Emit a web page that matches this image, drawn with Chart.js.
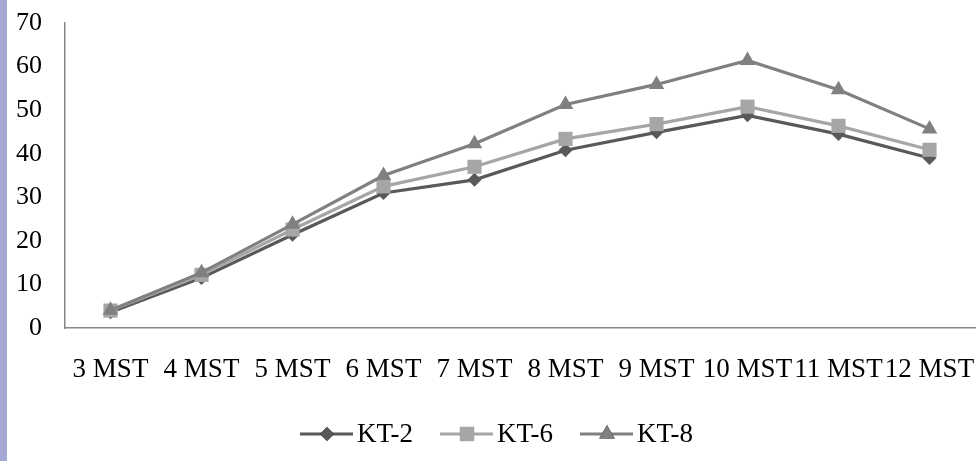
<!DOCTYPE html>
<html>
<head>
<meta charset="utf-8">
<script src="https://cdn.jsdelivr.net/npm/chart.js@4/dist/chart.umd.min.js"></script>
<style>
  html, body { margin: 0; padding: 0; background: #fff; }
  #wrap { position: relative; width: 977px; height: 461px; }
  #sidebar { position: absolute; left: 0; top: 0; width: 7px; height: 461px; background: #a3a9d2; }
  canvas { position: absolute; left: 0; top: 0; }
</style>
</head>
<body>
<div id="wrap">
  <canvas id="lineChart" width="977" height="461"></canvas>
  <div id="sidebar"></div>
</div>
<script>
const months = ['3 MST', '4 MST', '5 MST', '6 MST', '7 MST', '8 MST', '9 MST', '10 MST', '11 MST', '12 MST'];
const kt2 = [3.6, 11.5, 21.4, 31.0, 34.0, 40.8, 44.9, 48.8, 44.5, 39.0];
const kt6 = [4.0, 12.2, 22.6, 32.5, 37.0, 43.4, 46.8, 50.8, 46.4, 40.9];
const kt8 = [4.1, 12.7, 23.8, 35.0, 42.3, 51.3, 55.9, 61.4, 54.7, 45.7];
const yTicks = [0, 10, 20, 30, 40, 50, 60, 70];

const serif = '"Liberation Serif", "Times New Roman", serif';

// legend entries drawn as line + marker, like office charts do
const lineLegend = {
  id: 'lineLegend',
  afterDraw(chart) {
    const ctx = chart.ctx;
    const starts = [300, 440, 580];
    const y = 434;
    ctx.save();
    chart.data.datasets.forEach((ds, i) => {
      const x0 = starts[i];
      ctx.strokeStyle = ds.borderColor;
      ctx.lineWidth = 3;
      ctx.beginPath();
      ctx.moveTo(x0, y);
      ctx.lineTo(x0 + 53, y);
      ctx.stroke();
      Chart.helpers.drawPoint(ctx, {
        pointStyle: ds.pointStyle,
        radius: ds.pointRadius,
        borderWidth: 0
      }, x0 + 27, y);
      ctx.fillStyle = ds.pointBackgroundColor;
      ctx.fill();
      ctx.fillStyle = '#000';
      ctx.font = '27px ' + serif;
      ctx.textBaseline = 'middle';
      ctx.textAlign = 'left';
      ctx.fillText(ds.label, x0 + 57, y + 1);
    });
    ctx.restore();
  }
};

const makeSet = (label, data, color, style, radius, order) => ({
  label: label,
  data: data,
  borderColor: color,
  backgroundColor: color,
  pointBackgroundColor: color,
  pointBorderColor: color,
  pointBorderWidth: 0,
  borderWidth: 3.2,
  pointStyle: style,
  pointRadius: radius,
  pointHoverRadius: radius,
  tension: 0,
  order: order
});

new Chart(document.getElementById('lineChart').getContext('2d'), {
  type: 'line',
  data: {
    labels: months,
    datasets: [
      makeSet('KT-2', kt2, '#595959', 'rectRot', 7, 3),
      makeSet('KT-6', kt6, '#a6a6a6', 'rect', 10, 2),
      makeSet('KT-8', kt8, '#808080', 'triangle', 9, 1)
    ]
  },
  options: {
    responsive: false,
    animation: false,
    layout: { autoPadding: false, padding: { top: 23, right: 2, left: 0, bottom: 0 } },
    plugins: {
      legend: { display: false },
      tooltip: { enabled: false }
    },
    scales: {
      x: {
        offset: true,
        grid: { display: false, drawTicks: false },
        border: { display: true, color: '#878787', width: 1.5 },
        ticks: {
          color: '#000',
          font: { family: serif, size: 27 },
          padding: 26,
          maxRotation: 0,
          autoSkip: false
        },
        afterFit: (scale) => {
          scale.height = 133;
          scale.paddingLeft = 0;
          scale.paddingRight = 0;
        }
      },
      y: {
        min: 0,
        max: 70,
        afterBuildTicks: (scale) => { scale.ticks = yTicks.map(v => ({ value: v })); },
        grid: { display: false, drawTicks: false },
        border: { display: true, color: '#878787', width: 1.5 },
        ticks: {
          color: '#000',
          font: { family: serif, size: 26 },
          padding: 23
        },
        afterFit: (scale) => {
          scale.width = 65;
          scale.paddingTop = 0;
          scale.paddingBottom = 0;
        }
      }
    }
  },
  plugins: [lineLegend]
});
</script>
</body>
</html>
